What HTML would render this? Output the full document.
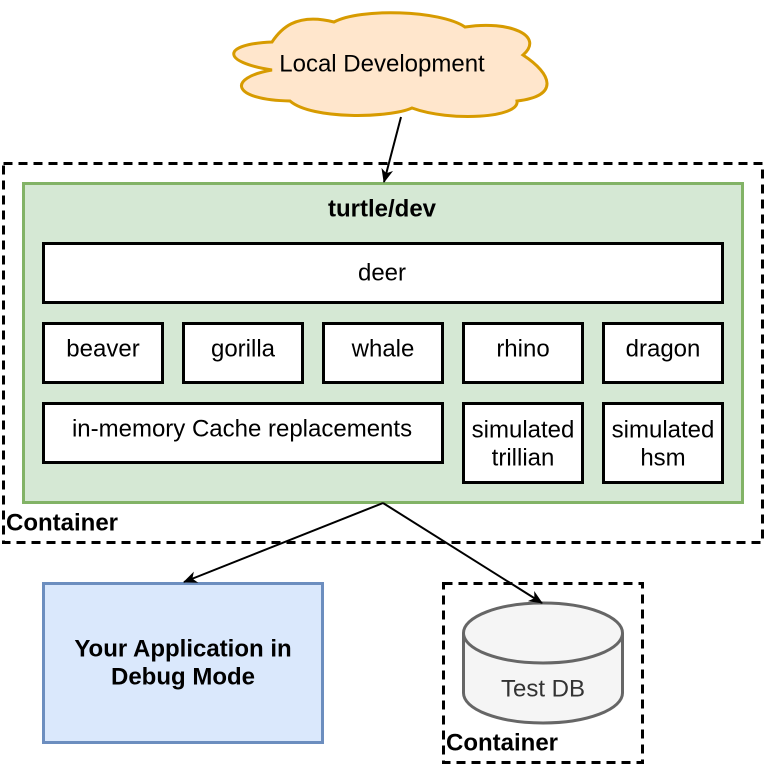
<!DOCTYPE html>
<html><head><meta charset="utf-8"><style>
html,body{margin:0;padding:0;background:#fff;}
svg{display:block;font-family:"Liberation Sans",Helvetica,Arial,sans-serif;}
text{dominant-baseline:central;}
</style></head><body>
<svg width="764" height="766" viewBox="0 0 764 766" xmlns="http://www.w3.org/2000/svg">
<defs>
<marker id="ar" markerWidth="14" markerHeight="14" refX="13" refY="6" orient="auto" markerUnits="userSpaceOnUse">
<path d="M0,0 L14,6 L0,12 L4,6 Z" fill="#000"/>
</marker>
</defs>
<!-- cloud -->
<path d="M272,42 C222,44 220,62 272,70 C226,78 232,100 290,101 C312,120 390,118 412,108 C450,122 520,118 517,101 C560,96 552,74 523,55 C545,36 510,20 465,27 C440,10 360,8 334,22 C295,12 280,30 272,42 Z" fill="#ffe6cc" stroke="#d79b00" stroke-width="3"/>
<text x="382" y="64" font-size="24" text-anchor="middle">Local Development</text>
<!-- outer container -->
<rect x="3.5" y="163.5" width="759" height="379" fill="none" stroke="#000" stroke-width="3" stroke-dasharray="9,6"/>
<text x="6" y="523" font-size="24" font-weight="bold">Container</text>
<!-- green -->
<rect x="23.5" y="183.5" width="719" height="319" fill="#d5e8d4" stroke="#82b366" stroke-width="3"/>
<text x="382" y="209" font-size="24" font-weight="bold" text-anchor="middle">turtle/dev</text>
<g fill="#fff" stroke="#000" stroke-width="3">
<rect x="43.5" y="243.5" width="679" height="59"/>
<rect x="43.5" y="323.5" width="119" height="59"/>
<rect x="183.5" y="323.5" width="119" height="59"/>
<rect x="323.5" y="323.5" width="119" height="59"/>
<rect x="463.5" y="323.5" width="119" height="59"/>
<rect x="603.5" y="323.5" width="119" height="59"/>
<rect x="43.5" y="403.5" width="399" height="59"/>
<rect x="463.5" y="403.5" width="119" height="79"/>
<rect x="603.5" y="403.5" width="119" height="79"/>
</g>
<g font-size="24" text-anchor="middle">
<text x="382" y="273">deer</text>
<text x="103" y="349">beaver</text>
<text x="243" y="349">gorilla</text>
<text x="383" y="349">whale</text>
<text x="523" y="349">rhino</text>
<text x="663" y="349">dragon</text>
<text x="242" y="429">in-memory Cache replacements</text>
<text x="523" y="430">simulated</text><text x="523" y="458">trillian</text>
<text x="663" y="430">simulated</text><text x="663" y="458">hsm</text>
</g>
<!-- app box -->
<rect x="43.5" y="583.5" width="279" height="159" fill="#dae8fc" stroke="#6c8ebf" stroke-width="3"/>
<text x="183" y="649" font-size="24" font-weight="bold" text-anchor="middle">Your Application in</text>
<text x="183" y="677" font-size="24" font-weight="bold" text-anchor="middle">Debug Mode</text>
<!-- container 2 -->
<rect x="443.5" y="583.5" width="199" height="179" fill="none" stroke="#000" stroke-width="3" stroke-dasharray="9,6"/>
<text x="446" y="743" font-size="24" font-weight="bold">Container</text>
<!-- cylinder -->
<path d="M463.5,633 L463.5,693 A79.5,30 0 0 0 622.5,693 L622.5,633" fill="#f5f5f5" stroke="#666" stroke-width="3"/>
<ellipse cx="543" cy="633" rx="79.5" ry="30" fill="#f5f5f5" stroke="#666" stroke-width="3"/>
<text x="543" y="689" font-size="24" fill="#333" text-anchor="middle">Test DB</text>
<!-- arrows -->
<g stroke="#000" stroke-width="2" fill="none">
<line x1="401" y1="117" x2="384" y2="182" marker-end="url(#ar)"/>
<line x1="383" y1="503" x2="184" y2="582" marker-end="url(#ar)"/>
<line x1="383" y1="503" x2="542" y2="603" marker-end="url(#ar)"/>
</g>
</svg>
</body></html>
